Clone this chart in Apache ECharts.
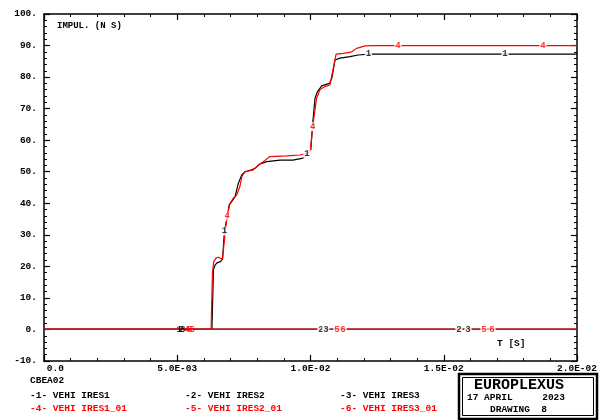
<!DOCTYPE html>
<html>
<head>
<meta charset="utf-8">
<script src="https://cdn.jsdelivr.net/npm/echarts@6/dist/echarts.min.js"></script>
<style>
  html, body { margin: 0; padding: 0; background: #fff; }
  #chart { width: 605px; height: 420px; }
</style>
</head>
<body>
<div id="chart"></div>
<script>
// Impulse history [time (s), impulse (N s)] for each vehicle result
const vehiIres1 = [
  [0, 0], [0.00630, 0], [0.00636, 19.0], [0.00642, 20.4], [0.00649, 21.1],
  [0.00662, 21.5], [0.00670, 22.3], [0.00677, 31.2], [0.00688, 35.8],
  [0.00695, 39.5], [0.00704, 40.5], [0.00717, 42.1], [0.00729, 46.3],
  [0.00742, 49.0], [0.00754, 50.0], [0.00779, 50.6], [0.00792, 51.1],
  [0.00811, 52.5], [0.00836, 53.2], [0.00886, 53.7], [0.00934, 53.7],
  [0.00972, 54.3], [0.00987, 55.6], [0.01001, 56.9], [0.01009, 66.0],
  [0.01017, 73.3], [0.01026, 75.4], [0.01042, 77.2], [0.01071, 78.0],
  [0.01080, 79.6], [0.01092, 85.4], [0.01111, 86.0], [0.01148, 86.5],
  [0.01179, 87.0], [0.01217, 87.3], [0.01730, 87.3], [0.02, 87.3]
];
const vehiIres2 = [[0, 0], [0.01039, 0], [0.01557, 0], [0.02, 0]];
const vehiIres3 = [[0, 0], [0.01058, 0], [0.01591, 0], [0.02, 0]];
const vehiIres1_01 = [
  [0, 0], [0.00627, 0], [0.00632, 18.0], [0.00637, 21.5], [0.00645, 22.6],
  [0.00654, 22.9], [0.00662, 22.5], [0.00670, 22.5], [0.00679, 30.0],
  [0.00687, 36.0], [0.00698, 40.0], [0.00710, 41.6], [0.00723, 42.6],
  [0.00735, 45.3], [0.00742, 48.4], [0.00754, 50.0], [0.00785, 50.6],
  [0.00804, 52.1], [0.00823, 53.2], [0.00848, 54.8], [0.00911, 55.0],
  [0.00961, 55.3], [0.00992, 55.9], [0.01000, 57.0], [0.01008, 64.3],
  [0.01023, 73.3], [0.01036, 76.1], [0.01054, 77.0], [0.01073, 77.5],
  [0.01096, 87.3], [0.01123, 87.5], [0.01155, 88.0], [0.01173, 89.1],
  [0.01205, 89.9], [0.01231, 90.0], [0.01328, 90.0], [0.01872, 90.0], [0.02, 90.0]
];
const vehiIres2_01 = [[0, 0], [0.01099, 0], [0.01651, 0], [0.02, 0]];
const vehiIres3_01 = [[0, 0], [0.01122, 0], [0.01681, 0], [0.02, 0]];

// Curve tags: [time, impulse] where each curve number is written
const tags1 = [[0.00507, 0], [0.00677, 31.2], [0.00987, 55.6], [0.01217, 87.3], [0.01730, 87.3]];
const tags2 = [[0.00514, 0], [0.01039, 0], [0.01557, 0]];
const tags3 = [[0.00520, 0], [0.01058, 0], [0.01591, 0]];
const tags4 = [[0.00537, 0], [0.00687, 36.0], [0.01008, 64.3], [0.01328, 90.0], [0.01872, 90.0]];
const tags5 = [[0.00546, 0], [0.01099, 0], [0.01651, 0]];
const tags6 = [[0.00556, 0], [0.01122, 0], [0.01681, 0]];

const curveNames = ['VEHI IRES1', 'VEHI IRES2', 'VEHI IRES3',
                    'VEHI IRES1_01', 'VEHI IRES2_01', 'VEHI IRES3_01'];
const curveData = [vehiIres1, vehiIres2, vehiIres3, vehiIres1_01, vehiIres2_01, vehiIres3_01];
const curveTags = [tags1, tags2, tags3, tags4, tags5, tags6];
const curveColors = ['#000000', '#000000', '#000000', '#ff0000', '#ff0000', '#ff0000'];

const xTicks = { min: 0, max: 0.02, step: 0.005 };
const yTicks = { min: -10, max: 100, step: 10 };

const FONT = '"Liberation Mono", "DejaVu Sans Mono", monospace';

function fmtTime(v) {
  if (Math.abs(v) < 1e-12) return '    0.0';
  const e = Math.floor(Math.log10(v) + 1e-9);
  const m = v / Math.pow(10, e);
  return m.toFixed(1) + 'E-' + String(-e).padStart(2, '0');
}

const tickStyle = { show: true, inside: true, length: 6, lineStyle: { color: '#000', width: 1.2 } };
const minorStyle = { show: true, splitNumber: 5, length: 3, lineStyle: { color: '#000', width: 1 } };
const lineAx = { show: true, onZero: false, lineStyle: { color: '#000', width: 1.5 } };

const series = [];
curveData.forEach((d, i) => {
  series.push({
    type: 'line', data: d, showSymbol: false, symbol: 'none',
    lineStyle: { color: curveColors[i], width: 1.2 },
    itemStyle: { color: curveColors[i] },
    z: 2, silent: true
  });
});
curveTags.forEach((d, i) => {
  series.push({
    type: 'scatter', symbol: 'rect', symbolSize: 1,
    // the first tag of every curve sits in a crowded group, so it is drawn without a gap
    data: d.map((p, k) => k === 0 ? { value: p, label: { backgroundColor: 'rgba(0,0,0,0)' } } : p),
    itemStyle: { color: 'rgba(0,0,0,0)' }, z: 5, silent: true,
    label: {
      show: true, position: 'inside', formatter: String(i + 1),
      color: curveColors[i], fontFamily: FONT, fontWeight: 'bold', fontSize: 9,
      backgroundColor: '#fff', padding: [0, 1]
    }
  });
});

const graphic = [
  { type: 'text', left: 57, top: 21, style: { text: 'IMPUL. (N S)', font: 'bold 9px ' + FONT, fill: '#000' } },
  { type: 'text', left: 497, top: 339, style: { text: 'T [S]', font: 'bold 9.5px ' + FONT, fill: '#000' } },
  { type: 'text', left: 30, top: 376, style: { text: 'CBEA02', font: 'bold 9.5px ' + FONT, fill: '#000' } }
];
const legendX = [30, 185, 340];
curveNames.forEach((n, i) => {
  graphic.push({
    type: 'text', left: legendX[i % 3], top: i < 3 ? 391 : 404,
    style: { text: '-' + (i + 1) + '- ' + n, font: 'bold 9.5px ' + FONT, fill: curveColors[i] }
  });
});
graphic.push(
  { type: 'rect', shape: { x: 459, y: 374, width: 138, height: 45 }, style: { fill: '#fff', stroke: '#000', lineWidth: 2.5 } },
  { type: 'rect', shape: { x: 462.5, y: 377.5, width: 131, height: 38 }, style: { fill: 'none', stroke: '#000', lineWidth: 1 } },
  { type: 'text', x: 519, y: 385, style: { text: 'EUROPLEXUS', font: 'bold 15px ' + FONT, fill: '#000', align: 'center', verticalAlign: 'middle' } },
  { type: 'text', x: 467, y: 398, style: { text: '17 APRIL', font: 'bold 9.5px ' + FONT, fill: '#000', verticalAlign: 'middle' } },
  { type: 'text', x: 565, y: 398, style: { text: '2023', font: 'bold 9.5px ' + FONT, fill: '#000', align: 'right', verticalAlign: 'middle' } },
  { type: 'text', x: 490, y: 410, style: { text: 'DRAWING  8', font: 'bold 9.5px ' + FONT, fill: '#000', verticalAlign: 'middle' } }
);

const chart = echarts.init(document.getElementById('chart'), null, { renderer: 'canvas' });
chart.setOption({
  animation: false,
  backgroundColor: '#fff',
  grid: { left: 44, right: 28, top: 14, bottom: 59, containLabel: false },
  xAxis: [
    {
      type: 'value', min: xTicks.min, max: xTicks.max, interval: xTicks.step, position: 'bottom',
      axisLine: lineAx, axisTick: tickStyle, minorTick: minorStyle, splitLine: { show: false },
      axisLabel: { formatter: fmtTime, color: '#000', fontFamily: FONT, fontWeight: 'bold', fontSize: 9.5, margin: 3, showMinLabel: true, showMaxLabel: true }
    },
    {
      type: 'value', min: xTicks.min, max: xTicks.max, interval: xTicks.step, position: 'top',
      axisLine: lineAx, axisTick: tickStyle, minorTick: minorStyle, splitLine: { show: false },
      axisLabel: { show: false }
    }
  ],
  yAxis: [
    {
      type: 'value', min: yTicks.min, max: yTicks.max, interval: yTicks.step, position: 'left',
      axisLine: lineAx, axisTick: tickStyle, minorTick: minorStyle, splitLine: { show: false },
      axisLabel: { formatter: v => v + '.', color: '#000', fontFamily: FONT, fontWeight: 'bold', fontSize: 9.5, margin: 7 }
    },
    {
      type: 'value', min: yTicks.min, max: yTicks.max, interval: yTicks.step, position: 'right',
      axisLine: lineAx, axisTick: tickStyle, minorTick: minorStyle, splitLine: { show: false },
      axisLabel: { show: false }
    }
  ],
  graphic: graphic,
  series: series
});
</script>
</body>
</html>
